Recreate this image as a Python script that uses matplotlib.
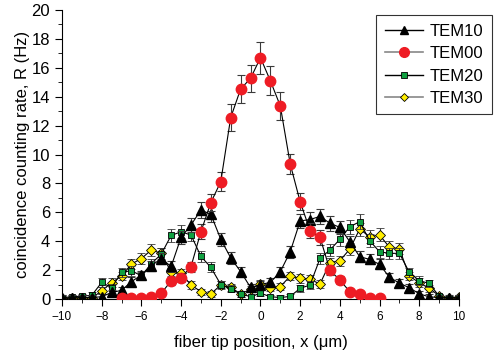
import numpy as np
import matplotlib
matplotlib.use("Agg")
import matplotlib.pyplot as plt
from matplotlib.lines import Line2D

plt.rcParams['font.family'] = ['Liberation Sans', 'DejaVu Sans']

# scan positions (um)
x_all = np.arange(-10, 10.5, 0.5)
x_00 = np.arange(-7, 6.5, 0.5)

tem10 = [0.05, 0.05, 0.1, 0.1, 0.16, 0.45, 0.6, 1.2, 1.66, 2.3, 2.8, 2.25, 4.27, 5.12,
         6.16, 5.86, 4.13, 2.85, 1.9, 0.8, 1.0, 1.15, 1.89, 3.27, 5.4, 5.5, 5.72, 5.24,
         4.96, 3.97, 2.93, 2.74, 2.4, 1.5, 1.1, 0.78, 0.36, 0.15, 0.1, 0.05, 0.1]
tem10_err = [0.2, 0.2, 0.2, 0.2, 0.2, 0.2, 0.25, 0.3, 0.3, 0.35, 0.4, 0.35, 0.45, 0.5,
             0.55, 0.5, 0.45, 0.4, 0.3, 0.25, 0.25, 0.3, 0.3, 0.4, 0.5, 0.5, 0.5, 0.5,
             0.45, 0.4, 0.4, 0.35, 0.35, 0.3, 0.25, 0.25, 0.2, 0.2, 0.2, 0.2, 0.2]

tem00 = [0.05, 0.1, 0.1, 0.14, 0.4, 1.25, 1.47, 2.24, 4.66, 6.67, 8.12, 12.55, 14.53,
         15.27, 16.7, 15.1, 13.36, 9.34, 6.73, 4.73, 4.27, 2.0, 1.31, 0.51, 0.32, 0.1, 0.05]
tem00_err = [0.1, 0.1, 0.1, 0.1, 0.2, 0.3, 0.3, 0.35, 0.5, 0.6, 0.65, 0.95, 0.95,
             0.95, 1.1, 1.0, 0.95, 0.7, 0.6, 0.5, 0.5, 0.35, 0.3, 0.2, 0.15, 0.1, 0.1]

tem20 = [0.1, 0.15, 0.2, 0.25, 1.15, 0.78, 1.85, 1.96, 1.6, 2.45, 3.1, 4.4, 4.65, 4.43,
         2.95, 2.19, 1.0, 0.7, 0.35, 0.16, 0.4, 0.16, 0.1, 0.18, 0.74, 0.97, 2.81, 3.39,
         4.13, 5.0, 5.35, 4.04, 3.27, 3.16, 3.16, 1.85, 1.27, 1.08, 0.2, 0.05, 0.1]
tem20_err = [0.15, 0.15, 0.15, 0.2, 0.3, 0.25, 0.3, 0.35, 0.3, 0.35, 0.4, 0.45, 0.45, 0.45,
             0.4, 0.35, 0.25, 0.25, 0.2, 0.15, 0.2, 0.15, 0.15, 0.15, 0.25, 0.25, 0.4, 0.4,
             0.45, 0.5, 0.5, 0.45, 0.4, 0.4, 0.4, 0.3, 0.3, 0.25, 0.15, 0.15, 0.15]

tem30 = [0.05, 0.05, 0.1, 0.05, 0.57, 1.13, 1.59, 2.42, 2.8, 3.39, 3.16, 1.87, 1.78, 0.97,
         0.51, 0.35, 0.97, 0.81, 0.35, 0.67, 1.04, 0.78, 0.85, 1.59, 1.43, 1.36, 1.04, 2.51,
         2.65, 3.45, 4.84, 4.31, 4.43, 3.58, 3.48, 1.59, 1.13, 0.74, 0.23, 0.05, 0.16]
tem30_err = [0.15, 0.15, 0.15, 0.15, 0.25, 0.3, 0.3, 0.35, 0.4, 0.4, 0.4, 0.3, 0.3, 0.25,
             0.2, 0.2, 0.25, 0.25, 0.2, 0.2, 0.25, 0.25, 0.25, 0.3, 0.3, 0.3, 0.25, 0.35,
             0.35, 0.4, 0.45, 0.45, 0.45, 0.4, 0.4, 0.3, 0.3, 0.25, 0.15, 0.15, 0.15]

fig = plt.figure(figsize=(4.94, 3.58), dpi=100)
ax = fig.add_axes([0.1255, 0.1648, 0.8035, 0.8072])

ebar = dict(ecolor='#3a3a3a', elinewidth=0.8, capsize=3, capthick=0.8,
            color='black', lw=0.8)

ax.errorbar(x_all, tem30, yerr=tem30_err, marker='D', ms=5, mfc='#ffee00', mec='black',
            mew=0.6, zorder=2, **ebar)
ax.errorbar(x_all, tem20, yerr=tem20_err, marker='s', ms=5, mfc='#0fa040', mec='black',
            mew=0.6, zorder=3, **ebar)
ax.errorbar(x_all, tem10, yerr=tem10_err, marker='^', ms=7, mfc='black', mec='black',
            zorder=4, **ebar)
ax.errorbar(x_00, tem00, yerr=tem00_err, marker='o', ms=7.5, mfc='#ee1c24', mec='#ee1c24',
            zorder=5, **ebar)

ax.set_xlim(-10, 10)
ax.set_ylim(0, 20)
ax.set_xticks(np.arange(-10, 11, 2))
ax.set_xticks(np.arange(-10, 11, 1), minor=True)
ax.set_yticks(np.arange(0, 21, 2))
ax.set_yticks(np.arange(0, 21, 1), minor=True)
ax.spines['top'].set_visible(False)
ax.spines['right'].set_visible(False)
ax.tick_params(axis='x', which='major', direction='out', length=5, labelsize=8.5)
ax.tick_params(axis='y', which='major', direction='out', length=5, labelsize=12)
ax.tick_params(which='minor', direction='out', length=3)
ax.set_xlabel('fiber tip position, x (\u03bcm)', fontsize=12, labelpad=9)
ax.set_ylabel('coincidence counting rate, R (Hz)', fontsize=12, labelpad=1)

handles = [
    Line2D([], [], color='black', lw=1, marker='^', ms=6, mfc='black', mec='black'),
    Line2D([], [], color='#888888', lw=1.2, marker='o', ms=7, mfc='#ee1c24', mec='#ee1c24'),
    Line2D([], [], color='black', lw=1, marker='s', ms=4, mfc='#0fa040', mec='black', mew=0.6),
    Line2D([], [], color='#888888', lw=1.2, marker='D', ms=4, mfc='#ffee00', mec='black', mew=0.6),
]
labels = ['TEM10', 'TEM00', 'TEM20', 'TEM30']
leg = ax.legend(handles, labels, loc='upper left', bbox_to_anchor=(0.792, 0.982),
                fontsize=12, frameon=True, fancybox=False, edgecolor='black',
                handlelength=2.3, borderpad=0.5, labelspacing=0.45, handletextpad=0.4,
                borderaxespad=0)
leg.get_frame().set_linewidth(0.8)

fig.savefig('out.png', dpi=100)
